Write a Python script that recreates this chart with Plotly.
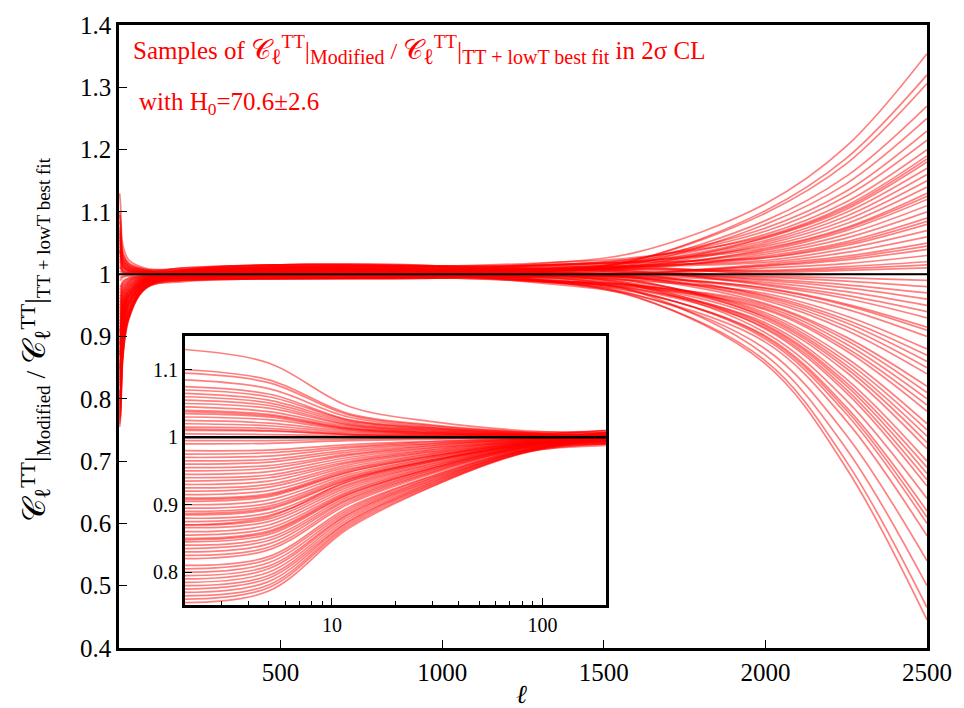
import math
import plotly.graph_objects as go

ell_knots = [2, 5, 12, 30, 80, 200, 500, 1000, 1300, 1600, 2000, 2250, 2500]

# ratio values of each sample curve at each knot (one list per knot)
r_2 = [1.13, 1.10, 1.095, 1.085, 1.075, 1.07, 1.065, 1.06, 1.055, 1.05, 1.045, 1.04, 1.038, 1.035, 1.03, 1.025, 1.02, 1.015,
       1.012, 1.01, 1.005, 0.995, 0.99, 0.98, 0.975, 0.97, 0.965, 0.96, 0.955, 0.95, 0.945, 0.94, 0.935, 0.93, 0.925, 0.92,
       0.915, 0.91, 0.908, 0.905, 0.90, 0.895, 0.89, 0.887, 0.885, 0.88, 0.875, 0.87, 0.87, 0.866, 0.86, 0.855, 0.85, 0.848,
       0.845, 0.84, 0.835, 0.83, 0.825, 0.82, 0.81, 0.805, 0.80, 0.795, 0.79, 0.785, 0.78, 0.775, 0.77, 0.765, 0.76, 0.755]
r_5 = [1.110, 1.085, 1.081, 1.072, 1.064, 1.060, 1.055, 1.051, 1.047, 1.043, 1.038, 1.034, 1.032, 1.030, 1.026, 1.021, 1.017, 1.013,
       1.010, 1.009, 1.004, 0.995, 0.991, 0.981, 0.977, 0.972, 0.967, 0.963, 0.958, 0.954, 0.949, 0.944, 0.940, 0.935, 0.930, 0.926,
       0.921, 0.916, 0.914, 0.912, 0.907, 0.902, 0.898, 0.895, 0.893, 0.888, 0.884, 0.879, 0.882, 0.875, 0.870, 0.865, 0.861, 0.859,
       0.856, 0.851, 0.847, 0.842, 0.837, 0.833, 0.823, 0.819, 0.814, 0.809, 0.805, 0.800, 0.795, 0.791, 0.786, 0.781, 0.777, 0.772]
r_12 = [1.046, 1.035, 1.033, 1.030, 1.026, 1.025, 1.023, 1.021, 1.019, 1.018, 1.016, 1.014, 1.013, 1.012, 1.011, 1.009, 1.007, 1.005,
        1.004, 1.004, 1.002, 0.997, 0.995, 0.989, 0.986, 0.984, 0.981, 0.978, 0.975, 0.973, 0.970, 0.967, 0.964, 0.962, 0.959, 0.956,
        0.953, 0.951, 0.949, 0.948, 0.945, 0.942, 0.940, 0.938, 0.937, 0.934, 0.931, 0.929, 0.935, 0.926, 0.923, 0.920, 0.918, 0.916,
        0.915, 0.912, 0.909, 0.907, 0.904, 0.901, 0.896, 0.893, 0.890, 0.887, 0.885, 0.882, 0.879, 0.876, 0.874, 0.871, 0.868, 0.865]
r_30 = [1.023, 1.018, 1.017, 1.015, 1.014, 1.013, 1.012, 1.011, 1.010, 1.009, 1.008, 1.007, 1.007, 1.006, 1.005, 1.005, 1.004, 1.003,
        1.002, 1.002, 1.001, 0.999, 0.997, 0.994, 0.993, 0.991, 0.990, 0.988, 0.987, 0.985, 0.984, 0.982, 0.981, 0.979, 0.978, 0.976,
        0.975, 0.973, 0.972, 0.972, 0.970, 0.969, 0.967, 0.966, 0.966, 0.964, 0.963, 0.961, 0.965, 0.960, 0.958, 0.957, 0.955, 0.954,
        0.954, 0.952, 0.951, 0.949, 0.948, 0.946, 0.943, 0.942, 0.940, 0.939, 0.937, 0.936, 0.934, 0.933, 0.931, 0.930, 0.928, 0.927]
r_80 = [1.010, 1.008, 1.008, 1.007, 1.006, 1.006, 1.005, 1.005, 1.004, 1.004, 1.004, 1.003, 1.003, 1.003, 1.002, 1.002, 1.002, 1.001,
        1.001, 1.001, 1.000, 1.000, 0.999, 0.998, 0.998, 0.997, 0.997, 0.996, 0.996, 0.995, 0.995, 0.994, 0.994, 0.993, 0.993, 0.992,
        0.992, 0.991, 0.991, 0.991, 0.990, 0.990, 0.989, 0.989, 0.989, 0.988, 0.988, 0.987, 0.988, 0.987, 0.986, 0.986, 0.985, 0.985,
        0.985, 0.984, 0.984, 0.983, 0.983, 0.982, 0.981, 0.981, 0.980, 0.980, 0.979, 0.979, 0.978, 0.978, 0.977, 0.977, 0.976, 0.976]
r_200 = [1.006, 0.999, 1.009, 1.003, 0.996, 1.007, 1.003, 0.999, 1.010, 0.996, 1.004, 1.001, 1.001, 1.004, 0.996, 1.010, 0.999, 1.002,
         1.005, 0.994, 1.001, 1.007, 0.997, 1.003, 1.003, 0.996, 1.006, 1.000, 0.993, 1.004, 1.001, 0.996, 1.007, 0.993, 1.001, 0.998,
         0.998, 1.001, 0.993, 1.007, 0.995, 0.999, 1.002, 0.991, 0.998, 1.004, 0.994, 1.001, 1.001, 0.994, 1.003, 0.997, 0.990, 1.001,
         0.998, 0.994, 1.005, 0.991, 0.999, 0.996, 0.995, 0.998, 0.990, 1.004, 0.993, 0.997, 0.999, 0.988, 0.995, 1.001, 0.991, 0.998]
r_500 = [1.008, 0.997, 1.012, 1.004, 0.993, 1.010, 1.005, 0.999, 1.015, 0.994, 1.007, 1.002,
         1.002, 1.007, 0.994, 1.015, 0.999, 1.005, 1.010, 0.993, 1.004, 1.012, 0.997, 1.008,
         1.008, 0.997, 1.012, 1.004, 0.993, 1.010, 1.005, 0.999, 1.015, 0.994, 1.007, 1.002,
         1.002, 1.007, 0.994, 1.015, 0.999, 1.005, 1.010, 0.993, 1.004, 1.012, 0.997, 1.008,
         1.008, 0.997, 1.012, 1.004, 0.993, 1.010, 1.005, 0.999, 1.015, 0.994, 1.007, 1.002,
         1.002, 1.007, 0.994, 1.015, 0.999, 1.005, 1.010, 0.993, 1.004, 1.012, 0.997, 1.008]
r_1000 = [1.007, 0.998, 1.011, 1.004, 0.994, 1.008, 1.005, 0.998, 1.013, 0.996, 1.005, 1.002,
          1.002, 1.005, 0.996, 1.013, 0.998, 1.005, 1.008, 0.994, 1.004, 1.011, 0.998, 1.007,
          1.007, 0.998, 1.011, 1.004, 0.994, 1.008, 1.005, 0.998, 1.013, 0.996, 1.005, 1.002,
          1.002, 1.005, 0.996, 1.013, 0.998, 1.005, 1.008, 0.994, 1.004, 1.011, 0.998, 1.007,
          1.007, 0.998, 1.011, 1.004, 0.994, 1.008, 1.005, 0.998, 1.013, 0.996, 1.005, 1.002,
          1.002, 1.005, 0.996, 1.013, 0.998, 1.005, 1.008, 0.994, 1.004, 1.011, 0.998, 1.007]
r_1300 = [1.007, 0.989, 1.014, 0.999, 1.004, 1.008, 0.995, 1.003, 1.009, 1.005, 1.006, 0.992, 1.006, 1.001, 1.004, 1.013, 0.990, 1.008,
          1.003, 1.002, 1.003, 1.000, 1.001, 1.001, 1.014, 0.998, 1.000, 1.006, 0.989, 1.014, 1.003, 0.988, 1.015, 0.990, 1.012, 1.001,
          0.990, 1.008, 0.990, 1.018, 0.998, 0.992, 1.010, 0.988, 1.009, 1.009, 0.986, 1.009, 1.000, 1.004, 1.008, 0.989, 0.996, 1.000,
          1.009, 0.997, 0.998, 0.997, 0.998, 1.007, 0.999, 0.990, 0.997, 1.005, 1.004, 1.001, 0.991, 0.996, 0.995, 1.015, 0.995, 1.017]
r_1600 = [1.009, 0.976, 1.020, 0.994, 1.023, 1.009, 0.980, 1.011, 1.001, 1.023, 1.007, 0.977, 1.013, 0.994, 1.020, 1.012, 0.975, 1.014,
          0.995, 1.017, 1.003, 0.983, 1.008, 0.993, 1.025, 0.998, 0.981, 1.011, 0.982, 1.025, 1.003, 0.971, 1.019, 0.982, 1.022, 1.000,
          0.972, 1.012, 0.981, 1.027, 0.997, 0.973, 1.014, 0.979, 1.019, 1.005, 0.966, 1.012, 0.988, 1.014, 1.004, 0.967, 1.001, 0.988,
          1.019, 0.994, 0.972, 1.002, 0.985, 1.016, 0.996, 0.963, 1.001, 0.990, 1.013, 0.997, 0.964, 0.999, 0.982, 1.021, 0.990, 1.035]
r_2000 = [1.006, 0.922, 1.042, 0.966, 1.102, 1.005, 0.919, 1.040, 0.964, 1.098, 1.003, 0.917, 1.038, 0.961, 1.086, 1.000, 0.914, 1.035,
          0.958, 1.080, 0.997, 0.912, 1.032, 0.953, 1.074, 0.995, 0.906, 1.029, 0.951, 1.069, 0.992, 0.901, 1.027, 0.948, 1.064, 0.990,
          0.899, 1.026, 0.945, 1.061, 0.987, 0.896, 1.022, 0.943, 1.059, 0.984, 0.891, 1.019, 0.938, 1.058, 0.982, 0.880, 1.016, 0.935,
          1.054, 0.978, 0.870, 1.014, 0.932, 1.051, 0.977, 0.861, 1.013, 0.930, 1.048, 0.974, 0.856, 1.010, 0.927, 1.045, 0.969, 1.113]
r_2250 = [1.012, 0.832, 1.075, 0.927, 1.186, 1.009, 0.826, 1.073, 0.922, 1.177, 1.006, 0.821, 1.070, 0.916, 1.157, 1.000, 0.815, 1.064,
          0.910, 1.145, 0.994, 0.810, 1.058, 0.899, 1.133, 0.989, 0.798, 1.052, 0.894, 1.125, 0.983, 0.787, 1.049, 0.888, 1.116, 0.978,
          0.782, 1.046, 0.882, 1.110, 0.972, 0.776, 1.041, 0.877, 1.107, 0.966, 0.765, 1.035, 0.866, 1.104, 0.961, 0.742, 1.029, 0.860,
          1.099, 0.952, 0.720, 1.026, 0.854, 1.093, 0.950, 0.700, 1.023, 0.849, 1.087, 0.944, 0.689, 1.017, 0.843, 1.081, 0.933, 1.205]
r_2500 = [1.02, 0.70, 1.13, 0.87, 1.32, 1.015, 0.69, 1.125, 0.86, 1.306, 1.01, 0.68, 1.12, 0.85, 1.27, 1.00, 0.67, 1.11,
          0.84, 1.25, 0.99, 0.66, 1.10, 0.82, 1.23, 0.98, 0.64, 1.09, 0.81, 1.215, 0.97, 0.62, 1.085, 0.80, 1.20, 0.96,
          0.61, 1.08, 0.79, 1.19, 0.95, 0.60, 1.07, 0.78, 1.185, 0.94, 0.58, 1.06, 0.76, 1.18, 0.93, 0.54, 1.05, 0.75,
          1.17, 0.915, 0.50, 1.045, 0.74, 1.16, 0.91, 0.465, 1.04, 0.73, 1.15, 0.90, 0.445, 1.03, 0.72, 1.14, 0.88, 1.354]

main_yticks = [0.4, 0.5, 0.6, 0.7, 0.8, 0.9, 1.0, 1.1, 1.2, 1.3, 1.4]
main_yticktext = ["0.4", "0.5", "0.6", "0.7", "0.8", "0.9", "1", "1.1", "1.2", "1.3", "1.4"]
main_xticks = [500, 1000, 1500, 2000, 2500]
main_xticktext = ["500", "1000", "1500", "2000", "2500"]
inset_yticks = [0.8, 0.9, 1.0, 1.1]
inset_yticktext = ["0.8", "0.9", "1", "1.1"]
inset_xticks = [10, 100]
inset_xticktext = ["10", "100"]
inset_xminor = [3, 4, 5, 6, 7, 8, 9, 20, 30, 40, 50, 60, 70, 80, 90]

columns = [r_2, r_5, r_12, r_30, r_80, r_200, r_500, r_1000, r_1300, r_1600, r_2000, r_2250, r_2500]
samples = list(zip(*columns))

SERIF = "Liberation Serif"
LINE = dict(color="rgba(255,0,0,0.5)", width=1.7, shape="spline", smoothing=1.0)

fig = go.Figure()
for s in samples:
    fig.add_trace(go.Scatter(x=ell_knots, y=list(s), mode="lines", line=LINE,
                             xaxis="x", yaxis="y", hoverinfo="skip", showlegend=False))
for s in samples:
    fig.add_trace(go.Scatter(x=ell_knots, y=list(s), mode="lines", line=LINE,
                             xaxis="x2", yaxis="y2", hoverinfo="skip", showlegend=False))

axis_common = dict(showgrid=False, zeroline=False, showline=True, linecolor="black",
                   mirror=True, ticks="inside", tickcolor="black")

fig.update_layout(
    width=964, height=708,
    margin=dict(l=119, r=35, t=21, b=60),
    paper_bgcolor="white", plot_bgcolor="white",
    font=dict(family=SERIF, color="black"),
    xaxis=dict(domain=[0, 1], range=[0, 2500], tickmode="array", tickvals=main_xticks,
               ticktext=main_xticktext, ticklen=8, tickwidth=1.2,
               linewidth=2.5, tickfont=dict(size=25, family=SERIF, color="black"), anchor="y", **axis_common),
    yaxis=dict(domain=[0, 1], range=[0.4, 1.4], tickmode="array", tickvals=main_yticks,
               ticktext=main_yticktext, ticklen=8, tickwidth=1.2, linewidth=2.5,
               tickfont=dict(size=25, family=SERIF, color="black"), anchor="x", **axis_common),
    xaxis2=dict(domain=[0.0815, 0.6025], type="log", range=[math.log10(2), math.log10(200)],
                tickmode="array", tickvals=inset_xticks, ticktext=inset_xticktext,
                ticklen=8, tickwidth=1.2,
                minor=dict(tickvals=inset_xminor, ticks="inside", ticklen=5, tickcolor="black", tickwidth=1),
                linewidth=2.5, tickfont=dict(size=20, family=SERIF, color="black"), anchor="y2", **axis_common),
    yaxis2=dict(domain=[0.0686, 0.5008], range=[0.751, 1.15], tickmode="array", tickvals=inset_yticks,
                ticktext=inset_yticktext, ticklen=7, tickwidth=1.2, linewidth=2.5,
                tickfont=dict(size=20, family=SERIF, color="black"), anchor="x2", **axis_common),
)

# reference line at ratio 1 in both panels
fig.add_shape(type="line", xref="x domain", yref="y", x0=0, x1=1, y0=1, y1=1,
              line=dict(color="black", width=2), layer="above")
fig.add_shape(type="line", xref="x2 domain", yref="y2", x0=0, x1=1, y0=1, y1=1,
              line=dict(color="black", width=2.5), layer="above")


def sized(txt, px):
    return "<span style='font-size:%dpx'>%s</span>" % (px, txt)


def ratio_label(c_px, l_px, tt_px, bar_px, sub_px, slash_px):
    C = sized("𝒞", c_px)
    part = lambda sub: (C + "<sub>" + sized("ℓ", l_px) + "</sub><sup>" + sized("TT", tt_px) + "</sup>" +
                        sized("|", bar_px) + "<sub>" + sized(sub, sub_px) + "</sub>")
    return part("Modified") + sized(" / ", slash_px) + part("TT + lowT best fit")


title1 = "Samples of " + ratio_label(28, 22, 19, 26, 20, 24) + " in 2σ CL"
title2 = "with H<sub>0</sub>=70.6±2.6"
ytitle = ratio_label(32, 23, 21, 30, 19, 28)

fig.add_annotation(text=title1, xref="paper", yref="paper", x=0.0148, y=0.960,
                   xanchor="left", yanchor="middle", showarrow=False,
                   font=dict(size=25, color="red", family=SERIF))
fig.add_annotation(text=title2, xref="paper", yref="paper", x=0.0222, y=0.874,
                   xanchor="left", yanchor="middle", showarrow=False,
                   font=dict(size=25, color="red", family=SERIF))
fig.add_annotation(text=ytitle, xref="paper", yref="paper", x=-0.1037, y=0.495,
                   xanchor="center", yanchor="middle", textangle=-90, showarrow=False,
                   font=dict(size=24, color="black", family=SERIF))
fig.add_annotation(text="<i>ℓ</i>", xref="paper", yref="paper", x=0.498, y=-0.075,
                   xanchor="center", yanchor="middle", showarrow=False,
                   font=dict(size=26, color="black", family=SERIF))

fig.write_html("out.html")
